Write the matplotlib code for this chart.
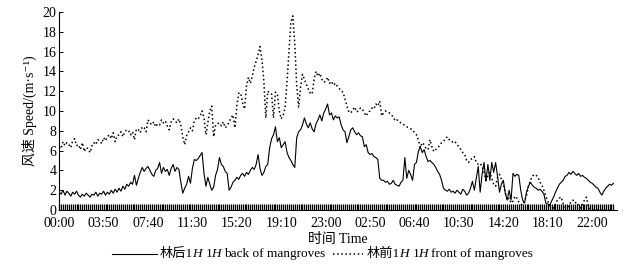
import numpy as np
import matplotlib
matplotlib.use("Agg")
from matplotlib import pyplot as plt
from matplotlib.lines import Line2D

plt.rcParams['font.family'] = ['Liberation Serif', 'Noto Sans CJK SC', 'DejaVu Serif']

# wind speed every 10 min, two days (00:00 day 1 .. 23:50 day 2)
back_speed = [
    1.8, 1.6, 2.0, 1.5, 1.9, 1.7, 1.4, 1.8, 1.6, 1.9, 1.5, 1.3,
    1.6, 1.4, 1.7, 1.5, 1.3, 1.6, 1.5, 1.8, 1.4, 1.7, 1.6, 1.9,
    1.5, 1.8, 1.6, 2.0, 1.7, 2.1, 1.8, 2.2, 1.9, 2.4, 2.1, 2.6,
    2.4, 2.8, 2.6, 3.5, 2.5, 3.2, 3.8, 4.3, 3.9, 4.2, 4.4, 4.0,
    3.6, 3.4, 4.0, 4.2, 4.8, 3.7, 4.3, 3.9, 4.1, 3.5, 4.2, 4.6,
    3.9, 4.3, 4.1, 2.8, 1.7, 2.2, 2.6, 3.4, 2.7, 4.2, 5.1, 5.0,
    5.2, 5.5, 5.8, 3.7, 2.4, 3.3, 2.6, 2.0, 2.3, 3.5, 4.1, 5.3,
    4.6, 4.4, 3.9, 3.7, 2.0, 2.3, 2.8, 3.0, 3.3, 3.1, 3.5, 3.7,
    3.4, 3.8, 3.6, 4.0, 4.3, 4.1, 4.6, 5.6, 4.2, 3.5, 3.8, 4.4,
    4.6, 6.3, 7.2, 7.6, 8.4, 6.9, 7.3, 6.3, 6.6, 6.9, 5.8, 5.3,
    5.0, 4.6, 4.3, 7.3, 7.9, 8.1, 8.6, 9.3, 8.7, 8.3, 8.8, 8.2,
    7.9, 8.7, 9.1, 9.6, 9.0, 9.8, 10.2, 10.7, 9.6, 9.8, 9.1, 9.5,
    9.3, 9.4, 8.6, 8.1, 7.9, 6.8, 7.4, 8.1, 8.3, 7.9, 7.6, 7.8,
    7.5, 7.4, 6.4, 6.6, 5.8, 5.6, 5.7, 5.4, 5.3, 5.1, 3.2, 3.0,
    3.0, 2.8, 2.9, 2.6, 2.7, 3.0, 2.6, 2.5, 2.4, 2.8, 3.0, 5.3,
    3.2, 4.0, 3.6, 3.0, 4.6, 4.8, 5.9, 6.4, 5.8, 6.1, 5.4, 4.9,
    5.0, 4.8, 4.6, 4.3, 3.9, 3.6, 3.0, 2.2, 2.0, 1.9, 2.1, 1.8,
    1.9, 1.7, 2.0, 1.8, 1.6, 2.1, 1.9, 1.5, 1.7, 2.2, 2.9, 2.0,
    3.2, 4.4, 1.8, 3.6, 4.8, 2.9, 4.6, 3.0, 4.8, 3.8, 4.8, 3.4,
    1.8, 2.6, 3.0, 1.7, 1.0, 2.0, 1.0, 3.7, 3.4, 3.6, 3.5, 2.0,
    1.0, 0.7, 1.8, 2.4, 2.8, 2.5, 2.3, 2.2, 2.0, 2.1, 1.9, 1.6,
    0.7, 0.6, 0.5, 0.9, 1.3, 1.8, 2.2, 2.6, 2.8, 3.0, 3.4, 3.5,
    3.8, 3.6, 3.9, 3.7, 3.5, 3.7, 3.4, 3.5, 3.3, 3.2, 3.0, 2.8,
    2.7, 2.5, 2.3, 2.2, 1.8, 1.5, 1.9, 2.2, 2.4, 2.6, 2.5, 2.7,
]

front_speed = [
    6.4, 6.2, 6.9, 6.5, 6.8, 6.6, 6.3, 7.0, 7.2, 6.5, 6.6, 6.1,
    6.8, 5.9, 6.3, 6.2, 5.8, 6.5, 6.8, 6.6, 7.1, 7.0, 6.7, 7.3,
    7.0, 7.4, 7.6, 7.2, 7.8, 6.9, 7.5, 7.6, 7.9, 7.4, 7.9, 8.1,
    8.0, 7.6, 7.9, 7.1, 8.2, 8.1, 7.8, 8.4, 8.3, 7.9, 9.1, 8.8,
    8.6, 8.9, 8.4, 8.7, 8.6, 9.1, 8.8, 9.0, 8.5, 8.1, 8.9, 9.2,
    9.0, 8.8, 9.2, 8.6, 7.4, 6.6, 7.5, 7.9, 8.3, 8.0, 9.0, 9.3,
    9.2, 9.5, 10.0, 9.3, 7.6, 8.8, 10.0, 10.5, 7.4, 8.6, 8.7, 8.8,
    8.5, 8.9, 8.3, 8.5, 8.9, 9.3, 9.6, 8.3, 10.5, 11.8, 11.8, 10.8,
    10.2, 12.5, 13.4, 12.8, 13.5, 14.4, 15.0, 15.7, 16.5, 15.2, 13.0, 9.3,
    12.0, 11.8, 11.7, 9.3, 11.9, 11.7, 10.0, 9.2, 9.6, 10.3, 13.0, 16.0,
    19.0, 19.6, 16.8, 12.6, 10.4, 12.4, 13.7, 13.2, 12.7, 12.2, 11.8, 11.7,
    13.2, 14.0, 13.5, 13.8, 13.2, 12.9, 13.0, 13.4, 12.8, 13.0, 12.6, 12.8,
    12.5, 12.3, 12.0, 11.9, 11.2, 10.5, 9.9, 9.8, 10.1, 10.4, 9.9, 10.0,
    10.3, 10.2, 9.8, 9.5, 9.9, 10.0, 10.3, 10.2, 10.7, 10.5, 11.0, 9.5,
    9.8, 10.0, 9.9, 9.8, 9.6, 9.4, 9.0, 9.1, 8.9, 8.8, 8.7, 8.5,
    8.4, 8.3, 8.2, 8.1, 7.8, 7.6, 7.1, 6.3, 6.8, 6.6, 6.2, 6.1,
    7.1, 6.4, 5.9, 6.1, 6.3, 6.5, 6.8, 6.9, 7.2, 7.4, 7.1, 7.0,
    6.8, 6.9, 6.6, 6.4, 6.1, 5.8, 5.6, 5.0, 4.8, 5.1, 5.2, 5.4,
    4.8, 4.6, 4.7, 4.4, 3.8, 3.0, 3.5, 3.8, 3.2, 2.6, 2.4, 3.3,
    3.6, 3.1, 2.6, 1.8, 1.0, 1.2, 0.7, 0.9, 1.4, 1.2, 0.8, 0.6,
    0.5, 0.9, 1.5, 2.4, 3.0, 3.4, 3.6, 3.5, 3.3, 2.8, 2.5, 2.0,
    1.4, 0.9, 0.5, 0.3, 0.2, 0.6, 1.0, 1.2, 1.3, 0.6, 0.3, 0.2,
    0.5, 0.8, 1.0, 0.7, 0.8, 0.4, 0.2, 0.6, 1.0, 1.3, 0.4, 0.1,
    0.0, 0.0, 0.0, 0.0, 0.0, 0.0, 0.0, 0.0, 0.0, 0.0, 0.0, 0.0,
]

tick_labels = ["00:00", "03:50", "07:40", "11:30", "15:20", "19:10", "23:00",
               "02:50", "06:40", "10:30", "14:20", "18:10", "22:00"]

x = np.arange(len(back_speed))

W, H = 643, 271
fig = plt.figure(figsize=(W / 100, H / 100), dpi=100)
ax = fig.add_axes([0.092, 0.225, 0.868, 0.731])

ax.plot(x, back_speed, color="black", linewidth=0.8)
ax.plot(x, front_speed, color="black", linewidth=1.1, linestyle=(0, (1, 1.7)))

ax.set_xlim(0, 289)
ax.set_ylim(0, 20)
ax.set_yticks(range(0, 21, 2))
ax.set_xticks(x[::23])
ax.set_xticklabels(tick_labels)
ax.set_xticks(x, minor=True)

ax.spines['top'].set_visible(False)
ax.spines['right'].set_visible(False)
ax.spines['left'].set_linewidth(0.8)
ax.spines['bottom'].set_linewidth(0.8)

ax.tick_params(axis='y', direction='in', length=3, width=0.7, labelsize=10, pad=2)
ax.tick_params(axis='x', which='both', direction='in', length=4, width=0.9,
               labelsize=10, pad=5)

ax.set_xlabel("时间 Time", fontsize=10, labelpad=2)
ax.set_ylabel("风速 Speed/(m·s⁻¹)", fontsize=10, labelpad=4)

# legend drawn by hand so that H can be italic next to the Chinese text
renderer = fig.canvas.get_renderer()
leg_y = 1 - 254 / H


def put_pieces(x_px, pieces):
    for s, style, gap in pieces:
        t = fig.text(x_px / W, leg_y, s, fontsize=9.5, style=style,
                     ha='left', va='center')
        x_px += t.get_window_extent(renderer).width + gap


fig.add_artist(Line2D([112 / W, 157 / W], [leg_y, leg_y], transform=fig.transFigure,
                      color="black", linewidth=0.8))
put_pieces(160, [("林后1", "normal", -1.5), ("H", "italic", 4), ("1", "normal", -0.5),
                 ("H", "italic", 3), ("back of mangroves", "normal", 0)])

fig.add_artist(Line2D([333 / W, 363 / W], [leg_y, leg_y], transform=fig.transFigure,
                      color="black", linewidth=1.1, linestyle=(0, (1, 1.7))))
put_pieces(367, [("林前1", "normal", -1.5), ("H", "italic", 4), ("1", "normal", -0.5),
                 ("H", "italic", 3), ("front of mangroves", "normal", 0)])

fig.savefig("out.png", dpi=100)
